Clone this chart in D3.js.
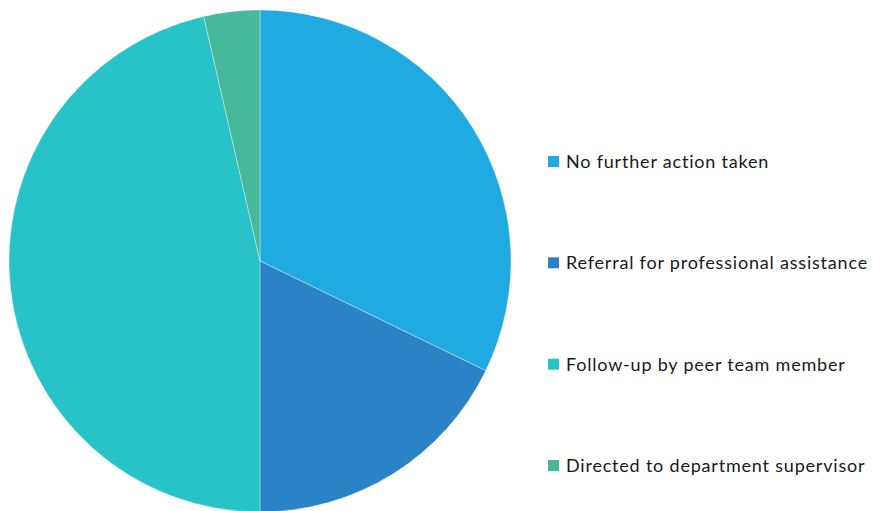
<!DOCTYPE html>
<html>
<head>
<meta charset="utf-8">
<script src="https://cdn.jsdelivr.net/npm/d3@7"></script>
<style>
  body { margin: 0; background: #fff; }
  svg { display: block; }
</style>
</head>
<body>
<svg id="chart" width="873" height="511"></svg>
<script>
// slice labels and shares (percent)
var categories = ["No further action taken", "Referral for professional assistance",
                  "Follow-up by peer team member", "Directed to department supervisor"];
var values = [32.2, 17.8, 46.4, 3.6];
var colors = ["#1faae2", "#2a82c7", "#27c3c9", "#45b99a"];

var svg = d3.select("#chart"),
    cx = 260, cy = 261, radius = 251;

var data = categories.map(function(c, i) { return {name: c, value: values[i]}; });

var pie = d3.pie().sort(null).value(function(d) { return d.value; });
var arc = d3.arc().innerRadius(0).outerRadius(radius);

var g = svg.append("g").attr("transform", "translate(" + cx + "," + cy + ")");

g.selectAll("path")
  .data(pie(data))
  .enter().append("path")
  .attr("d", arc)
  .attr("fill", function(d, i) { return colors[i]; })
  .attr("stroke", "#ffffff")
  .attr("stroke-width", 0.6)
  .attr("stroke-opacity", 0.6);

// legend
var legendY = d3.scalePoint().domain(categories).range([161, 465]);

var leg = svg.selectAll(".legend")
  .data(categories)
  .enter().append("g")
  .attr("class", "legend")
  .attr("transform", function(d) { return "translate(548," + legendY(d) + ")"; });

leg.append("rect")
  .attr("x", 0).attr("y", -5)
  .attr("width", 11).attr("height", 11)
  .attr("fill", function(d, i) { return colors[i]; });

leg.append("text")
  .attr("x", 18).attr("y", 0)
  .attr("dy", "0.38em")
  .attr("font-family", "Lato, 'Open Sans', sans-serif")
  .attr("font-size", "18px")
  .attr("letter-spacing", "0.8px")
  .attr("fill", "#1a1a1a")
  .text(function(d) { return d; });
</script>
</body>
</html>
